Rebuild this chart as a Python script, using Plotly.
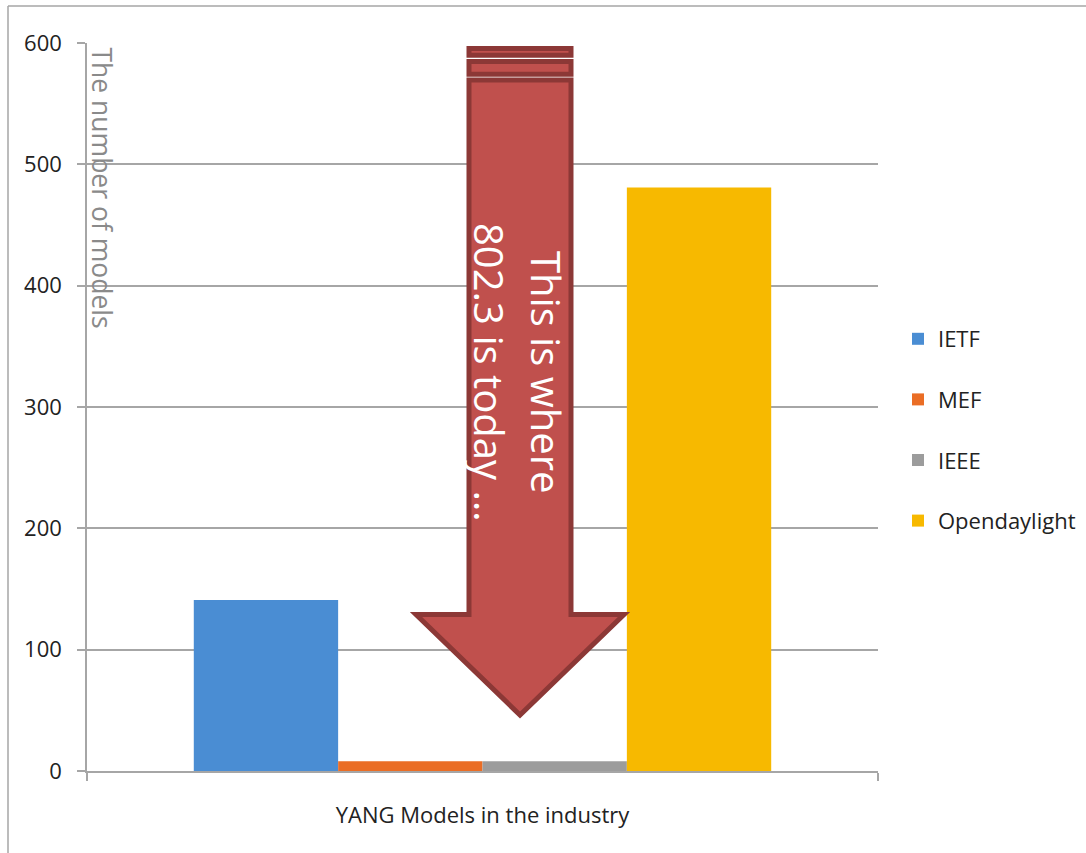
import plotly.graph_objects as go

# ---- data ----
category = ["YANG Models in the industry"]
series_names = ["IETF", "MEF", "IEEE", "Opendaylight"]
ietf = [141]
mef = [8]
ieee = [8]
opendaylight = [481]
series_values = [ietf, mef, ieee, opendaylight]
series_colors = ["#4A8DD3", "#EA6D25", "#9C9C9C", "#F7B900"]
y_ticks = [0, 100, 200, 300, 400, 500, 600]

W, H = 1086, 853
L, R, T, B = 87, 878, 43, 771  # plot area in px

def px(xp):
    return (xp - L) / (R - L)

def py(yp):
    return (B - yp) / (B - T)

FONT = "Open Sans, Liberation Sans, Arial"

fig = go.Figure()
for name, vals, col in zip(series_names, series_values, series_colors):
    fig.add_trace(go.Bar(
        x=category, y=vals, name=name, legendgroup=name,
        marker=dict(color=col, line=dict(width=0)),
    ))

shapes = []
# outer chart border (top and left edges visible)
BORDER = dict(color="#A6A6A6", width=1.5)
shapes.append(dict(type="line", xref="paper", yref="paper",
                   x0=px(8), x1=px(1100), y0=py(6), y1=py(6), line=BORDER, layer="below"))
shapes.append(dict(type="line", xref="paper", yref="paper",
                   x0=px(8), x1=px(8), y0=py(6), y1=py(870), line=BORDER, layer="below"))

ARROW_FILL = "#C0504D"
ARROW_LINE = "#8C3836"
# top bands of arrow
for y0, y1 in [(48.5, 55.3), (61.5, 74.3)]:
    shapes.append(dict(type="rect", xref="paper", yref="paper",
                       x0=px(469), x1=px(571), y0=py(y1), y1=py(y0),
                       line=dict(color=ARROW_LINE, width=5), fillcolor=ARROW_FILL, layer="above"))
# arrow main body
pts = [(469, 80), (571, 80), (571, 614.5), (624, 614.5), (520, 715),
       (416, 614.5), (469, 614.5)]
path = "M " + " L ".join(f"{px(a):.5f},{py(b):.5f}" for a, b in pts) + " Z"
shapes.append(dict(type="path", xref="paper", yref="paper", path=path,
                   line=dict(color=ARROW_LINE, width=5), fillcolor=ARROW_FILL, layer="above"))

annotations = [
    dict(text="The number of models", xref="paper", yref="paper",
         x=px(102), y=py(45), xanchor="center", yanchor="top",
         textangle=90, showarrow=False,
         font=dict(family=FONT, size=26.5, color="#8A8A8A")),
    dict(text="This is where", xref="paper", yref="paper",
         x=px(546), y=py(372), xanchor="center", yanchor="middle",
         textangle=90, showarrow=False,
         font=dict(family=FONT, size=40, color="white")),
    dict(text="802.3 is today …", xref="paper", yref="paper",
         x=px(489), y=py(372), xanchor="center", yanchor="middle",
         textangle=90, showarrow=False,
         font=dict(family=FONT, size=40, color="white")),
]

fig.update_layout(
    width=W, height=H,
    margin=dict(l=L, r=W - R, t=T, b=H - B, pad=0, autoexpand=False),
    paper_bgcolor="white", plot_bgcolor="white",
    barmode="group", bargap=0.27, bargroupgap=0,
    font=dict(family=FONT, size=22, color="#222222"),
    shapes=shapes, annotations=annotations,
    legend=dict(xref="container", yref="container",
                x=898 / W, y=(H - 430) / H, xanchor="left", yanchor="middle",
                tracegroupgap=29, traceorder="grouped",
                font=dict(family=FONT, size=22, color="#222222"),
                bgcolor="rgba(0,0,0,0)"),
    showlegend=True,
)
fig.update_yaxes(range=[0, 600], tickvals=y_ticks, showgrid=True,
                 gridcolor="#A6A6A6", gridwidth=1.5,
                 showline=True, linecolor="#A6A6A6", linewidth=1.5,
                 ticks="outside", ticklen=8, tickcolor="#A6A6A6", tickwidth=1.5,
                 ticklabelstandoff=11, zeroline=False, automargin=False,
                 tickfont=dict(family=FONT, size=22, color="#222222"))
fig.update_xaxes(showline=True, linecolor="#A6A6A6", linewidth=1.5,
                 ticks="outside", tickson="boundaries", ticklen=8,
                 tickcolor="#A6A6A6", tickwidth=1.5, ticklabelstandoff=24,
                 automargin=False,
                 tickfont=dict(family=FONT, size=22, color="#222222"))

fig.write_html("out.html")
